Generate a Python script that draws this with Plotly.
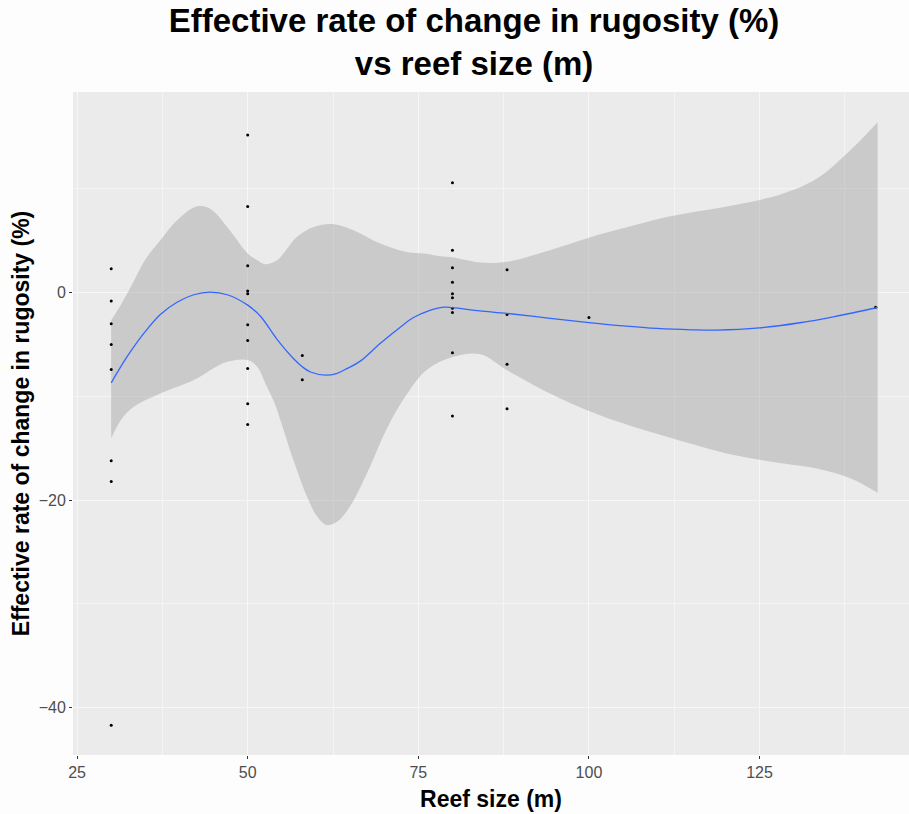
import plotly.graph_objects as go

# Observed reef sizes (m) and effective rate of change in rugosity (%)
reef_size = [30, 30, 30, 30, 30, 30, 30, 30,
             50, 50, 50, 50, 50, 50, 50, 50, 50, 50,
             58, 58,
             80, 80, 80, 80, 80, 80, 80, 80, 80, 80,
             88, 88, 88, 88,
             100,
             142]
rugosity_change = [2.3, -0.8, -3.0, -5.0, -7.4, -16.2, -18.2, -41.7,
                   15.2, 8.3, 2.6, 0.15, -0.1, -3.1, -4.6, -7.3, -10.7, -12.7,
                   -6.05, -8.4,
                   10.6, 4.1, 2.4, 1.0, -0.1, -0.5, -1.5, -1.9, -5.8, -11.9,
                   2.2, -2.1, -6.9, -11.2,
                   -2.4,
                   -1.4]

# Loess smooth (fitted curve)
fit_x = [30, 32.3, 34.8, 37.2, 39.7, 42.1, 44.5, 47, 50, 51.9, 54.3, 56.7, 58,
         59.2, 61.4, 63, 64.6, 66.5, 69.4, 72.4, 74.3, 76.5, 78.7, 80, 84, 88,
         94, 100, 105, 110, 115, 118.7, 125, 130.9, 136, 142.3]
fit_y = [-8.7, -6.2, -3.9, -2.1, -0.9, -0.2, 0.05, -0.2, -1.2, -2.3, -4.5, -6.35, -7.15,
         -7.65, -7.95, -7.8, -7.3, -6.6, -4.9, -3.3, -2.4, -1.75, -1.4, -1.45, -1.75, -2.0,
         -2.45, -2.88, -3.2, -3.45, -3.58, -3.61, -3.4, -2.9, -2.3, -1.43]

# Confidence band: upper edge
upper_x = [30, 31.4, 33.3, 35.0, 37.2, 39.7, 42.5, 44.5, 47, 50, 51.4, 52.6, 54.3,
           55.5, 57.2, 59.7, 62.6, 65.5, 69.4, 73.3, 75.8, 78.2, 80, 84.1, 88, 94.3,
           100, 105, 111.4, 121.2, 128.5, 133.4, 138.3, 142.3]
upper_y = [-2.65, -1.2, 1.1, 3.2, 5.06, 7.0, 8.3, 8.1, 6.34, 3.78, 3.13, 2.75, 3.13,
           4.0, 5.38, 6.34, 6.6, 6.02, 4.74, 3.93, 3.78, 3.52, 3.42, 2.9, 2.97, 4.1,
           5.3, 6.2, 7.3, 8.43, 9.56, 11.0, 13.73, 16.43]

# Confidence band: lower edge
lower_x = [30, 31.4, 33.3, 37.2, 42.1, 44.5, 47, 50, 51.4, 52.6, 53.9, 54.8, 56.7,
           58.7, 60.2, 61.6, 63.1, 65.0, 67.5, 70.4, 73.3, 76.3, 80, 84.1, 88, 94.3,
           100, 105, 111.4, 121.2, 128.5, 133.4, 138.3, 142.3]
lower_y = [-14.05, -12.3, -11.0, -9.72, -8.43, -7.47, -6.67, -6.5, -7.15, -8.75, -10.6, -12.29, -16.14,
           -19.68, -21.6, -22.4, -22.1, -20.6, -17.4, -13.1, -9.8, -7.4, -6.2, -5.93, -7.47, -9.72,
           -11.4, -12.6, -13.9, -15.66, -16.46, -16.95, -17.9, -19.3]

x_ticks = [25, 50, 75, 100, 125]
y_ticks = [-40, -20, 0]

FONT = "Liberation Sans, Arial, sans-serif"

fig = go.Figure()

fig.add_trace(go.Scatter(
    x=lower_x, y=lower_y, mode="lines",
    line=dict(width=0, shape="spline", smoothing=1.0),
    hoverinfo="skip", showlegend=False,
))
fig.add_trace(go.Scatter(
    x=upper_x, y=upper_y, mode="lines",
    line=dict(width=0, shape="spline", smoothing=1.0),
    fill="tonexty", fillcolor="rgba(153,153,153,0.4)",
    hoverinfo="skip", showlegend=False,
))
fig.add_trace(go.Scatter(
    x=reef_size, y=rugosity_change, mode="markers",
    marker=dict(size=3, color="black"),
    showlegend=False,
))
fig.add_trace(go.Scatter(
    x=fit_x, y=fit_y, mode="lines",
    line=dict(color="#3366FF", width=1.3, shape="spline", smoothing=1.0),
    showlegend=False,
))

axis_common = dict(
    showline=False, zeroline=False,
    gridcolor="#F7F7F7", gridwidth=1.1,
    ticks="outside", ticklen=3, tickwidth=1, tickcolor="#333333",
    tickfont=dict(family=FONT, size=16, color="#4D4D4D"),
)

fig.update_xaxes(
    range=[24.4, 146.9], tickvals=x_ticks,
    minor=dict(dtick=12.5, tick0=37.5, showgrid=True, gridcolor="#F4F4F4", gridwidth=0.5, ticks=""),
    title=dict(text="<b>Reef size (m)</b>", standoff=10,
               font=dict(family=FONT, size=23, color="black")),
    **axis_common,
)
fig.update_yaxes(
    range=[-44.58, 19.35], tickvals=y_ticks,
    minor=dict(dtick=10, tick0=-30, showgrid=True, gridcolor="#F4F4F4", gridwidth=0.5, ticks=""),
    title=dict(text="<b>Effective rate of change in rugosity (%)</b>", standoff=2,
               font=dict(family=FONT, size=23, color="black")),
    **axis_common,
)

fig.update_layout(
    width=909, height=814,
    margin=dict(l=73, r=0, t=92, b=59),
    paper_bgcolor="#FDFDFD", plot_bgcolor="#EBEBEB",
    title=dict(
        text="<b>Effective rate of change in rugosity (%)<br>vs reef size (m)</b>",
        x=0.5215, xref="container", xanchor="center",
        y=0.961, yref="container", yanchor="top",
        font=dict(family=FONT, size=33, color="black"),
    ),
)

fig.write_html("out.html")
